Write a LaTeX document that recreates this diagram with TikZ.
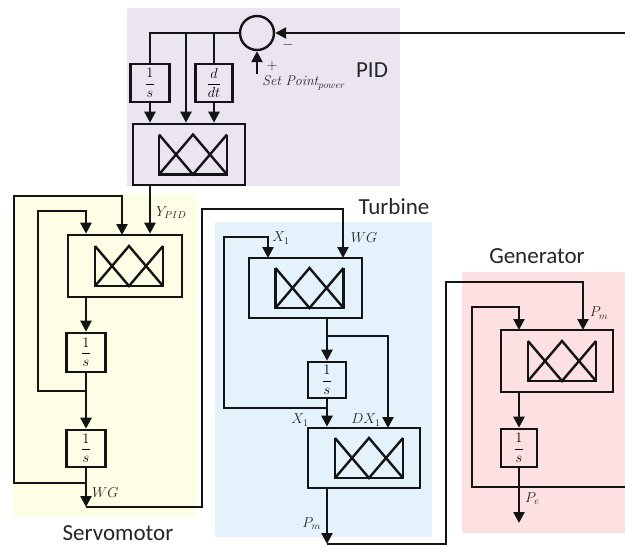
\documentclass[tikz,border=0pt]{standalone}
\usepackage{amsmath}
\usepackage{fontspec}
\setsansfont{Carlito}
\usetikzlibrary{arrows.meta, positioning, calc}
\definecolor{gvpid}{HTML}{EBE5F1}
\definecolor{gvservo}{HTML}{FEFDE5}
\definecolor{gvturb}{HTML}{E3F2FB}
\definecolor{gvgen}{HTML}{FDE1E2}
\definecolor{gvline}{HTML}{141414}
\definecolor{gvtext}{HTML}{262626}
\tikzset{
  zone/.style={draw=none},
  blk/.style={rectangle, draw=gvline, line width=2.6pt, inner sep=0pt},
  intblk/.style={blk, font=\fontsize{14}{16}\selectfont},
  sumnode/.style={circle, draw=gvline, line width=2.4pt, minimum size=34pt, inner sep=0pt},
  sig/.style={-{Triangle[length=11pt, width=11pt]}, draw=gvline, line width=2.4pt},
  wire/.style={draw=gvline, line width=2.4pt},
  lbl/.style={font=\fontsize{14}{16}\selectfont, text=gvtext, inner sep=1pt},
  ttl/.style={font=\sffamily\fontsize{23}{26}\selectfont, text=gvtext},
  xsym/.pic={
    \draw[gvline, line width=2.4pt] (-34,-20) -- (-34,20) -- (34,20) -- (34,-20);
    \draw[gvline, line width=2.4pt] (-34,-20) -- (0,20) -- (34,-20);
    \draw[gvline, line width=2.4pt] (-34,20) -- (0,-20) -- (34,20);
  },
}

\begin{document}
\begin{tikzpicture}[x=1pt, y=-1pt]
    \useasboundingbox (0,0) rectangle (625,546);
    \fill[gvpid] (127,8) rectangle (400,186);
    \fill[gvservo] (13,194) rectangle (197,517);
    \fill[gvturb] (215,222) rectangle (432,537);
    \fill[gvgen] (462,272) rectangle (625,533);

    \node[sumnode] (sum) at (257,33) {};
    \node[intblk, minimum width=39pt, minimum height=38pt] (pint) at (150,83) {$\dfrac{1}{s}$};
    \node[intblk, minimum width=37pt, minimum height=38pt] (pder) at (214,83) {$\dfrac{d}{dt}$};
    \node[blk, minimum width=112pt, minimum height=61pt] (pidm) at (189,154.5) {};
    \node[blk, minimum width=114pt, minimum height=62pt] (srv) at (125,266) {};
    \node[intblk, minimum width=39pt, minimum height=39pt] (s1) at (86,352.5) {$\dfrac{1}{s}$};
    \node[intblk, minimum width=39pt, minimum height=37pt] (s2) at (86,448.5) {$\dfrac{1}{s}$};
    \node[blk, minimum width=113pt, minimum height=60pt] (t1) at (305.5,288) {};
    \node[intblk, minimum width=38pt, minimum height=36pt] (tint) at (327,380) {$\dfrac{1}{s}$};
    \node[blk, minimum width=112pt, minimum height=60pt] (t2) at (364,458) {};
    \node[blk, minimum width=112pt, minimum height=62pt] (gen) at (557,361) {};
    \node[intblk, minimum width=36pt, minimum height=38pt] (gint) at (519,448) {$\dfrac{1}{s}$};

    \pic at ([xshift=4pt]pidm.center) {xsym};
    \pic at ([xshift=4pt]srv.center) {xsym};
    \pic at ([xshift=4pt]t1.center) {xsym};
    \pic at ([xshift=5pt]t2.center) {xsym};
    \pic at ([xshift=5pt]gen.center) {xsym};

    \node[ttl] (pidttl) at (372,70) {PID};
    \node[ttl] (srvttl) at (118,533) {Servomotor};
    \node[ttl] (turbttl) at (394,207) {Turbine};
    \node[ttl] (genttl) at (537,256) {Generator};

    \coordinate (fbin) at (625,33);
    \coordinate (spin) at (257,74);
    \coordinate (ptap) at (186,33);
    \coordinate (srvA) at (38,391);
    \coordinate (srvB) at (38,211);
    \coordinate (srvC) at (14,483);
    \coordinate (srvD) at (14,196);
    \coordinate (srvin2) at (122,235);
    \coordinate (wg) at (86,507);
    \coordinate (lk1) at (202,209);
    \coordinate (tin1) at (268,258);
    \coordinate (tin2) at (343,258);
    \coordinate (tfbA) at (224,408);
    \coordinate (tfbB) at (224,237);
    \coordinate (ttap) at (327,336);
    \coordinate (tin4) at (388,428);
    \coordinate (pm) at (327,544);
    \coordinate (lk2) at (446,282);
    \coordinate (gin1) at (519,330);
    \coordinate (gin2) at (583,330);
    \coordinate (gfbA) at (625,487);
    \coordinate (gfbB) at (472,487);
    \coordinate (gfbC) at (472,307);
    \coordinate (pe) at (519,523);

    \draw[sig] (fbin) -- (sum.east);
    \draw[sig] (spin) -- (sum.south);
    \node[lbl] (minus) at (288,45) {$-$};
    \node[lbl] (plus) at (272,66) {$+$};
    \node[lbl] (setpt) at (304,83) {$\mathit{Set\ Point}_{power}$};
    \draw[wire] (sum.west) -| (pint.north);
    \draw[sig] (ptap) -- (ptap |- pidm.north);
    \draw[wire] (pder |- sum.west) -- (pder.north);
    \draw[sig] (pint.south) -- (pint |- pidm.north);
    \draw[sig] (pder.south) -- (pder |- pidm.north);
    \draw[sig] (pint |- pidm.south) -- node[lbl, right=4pt, pos=0.55]{$Y_{PID}$} (pint |- srv.north);

    \draw[sig] (s1 |- srv.south) -- (s1.north);
    \draw[sig] (s1.south) -- (s2.north);
    \draw[sig] (s2.south) -- node[lbl, right=4pt, pos=0.62]{$WG$} (wg);
    \draw[sig] (s1 |- srvA) -- (srvA) -- (srvB) -| (s1 |- srv.north);
    \draw[sig] (s1 |- srvC) -- (srvC) -- (srvD) -| (srvin2);
    \draw[sig] (wg) -| (lk1) -| (tin2);

    \node[lbl] (tx1) at (281,238) {$X_1$};
    \node[lbl] (twg) at (364,238) {$WG$};
    \draw[sig] (tint |- tfbA) -- (tfbA) -- (tfbB) -| (tin1);
    \draw[sig] (tint |- t1.south) -- (tint.north);
    \draw[sig] (ttap) -| (tin4);
    \draw[sig] (tint.south) -- (tint |- t2.north);
    \node[lbl] (tx2) at (300,420) {$X_1$};
    \node[lbl] (tdx) at (366,420) {$DX_1$};
    \draw[sig] (tint |- t2.south) -- node[lbl, left=4pt, pos=0.62]{$P_m$} (pm);
    \draw[sig] (pm) -| (lk2) -| (gin2);

    \node[lbl] (gpm) at (599,313) {$P_m$};
    \draw[sig] (gfbA) -- (gfbB) -- (gfbC) -| (gin1);
    \draw[sig] (gint |- gen.south) -- (gint.north);
    \draw[sig] (gint.south) -- node[lbl, right=4pt, pos=0.55]{$P_e$} (pe);
\end{tikzpicture}
\end{document}
